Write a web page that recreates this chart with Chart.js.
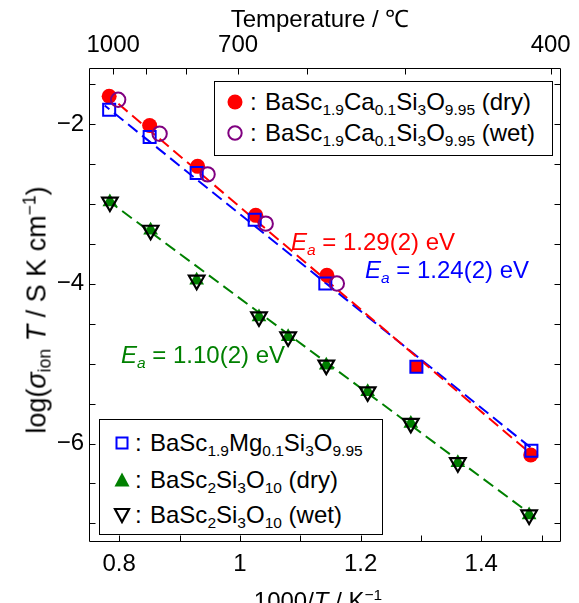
<!DOCTYPE html>
<html>
<head>
<meta charset="utf-8">
<script src="https://cdn.jsdelivr.net/npm/chart.js@4/dist/chart.umd.min.js"></script>
<style>
  html,body{margin:0;padding:0;background:#fff;overflow:hidden;}
  #wrap{position:relative;width:579px;height:603px;font-family:"Liberation Sans",Arial,sans-serif;color:#000;}
  #c{position:absolute;left:0;top:0;}
  .ov{position:absolute;white-space:nowrap;font-size:24px;line-height:24px;}
  .yt{font-size:27px;line-height:27px;}
  .yt .sb,.yt .sp{font-size:17.5px;}
  .sb{font-size:15.5px;vertical-align:-0.3em;line-height:0;}
  .sp{font-size:15.5px;vertical-align:0.55em;line-height:0;}
  .box{position:absolute;border:1px solid #000;background:#fff;}
  .mk{position:absolute;}
</style>
</head>
<body>
<div id="wrap">
<canvas id="c" width="579" height="603"></canvas>
</div>
<script>
// ---------------- data ----------------
const caDryX = [0.7834, 0.8505, 0.9300, 1.0263, 1.1442, 1.2925, 1.4820];
const caDryY = [-1.653, -2.019, -2.531, -3.144, -3.894, -5.040, -6.144];
const caWetX = [0.7983, 0.8670, 0.9465, 1.0428, 1.1607];
const caWetY = [-1.698, -2.123, -2.631, -3.248, -3.998];
const mgX = [0.7834, 0.8505, 0.9284, 1.0246, 1.1416, 1.2925, 1.4831];
const mgY = [-1.823, -2.165, -2.615, -3.198, -3.998, -5.040, -6.090];
const pureDryX = [0.7846, 0.8521, 0.9284, 1.0317, 1.0800, 1.1432, 1.2118, 1.2833, 1.3612, 1.4793];
const pureDryY = [-2.978, -3.331, -3.956, -4.415, -4.665, -5.019, -5.353, -5.748, -6.240, -6.894];
const pureWetX = [0.7846, 0.8521, 0.9284, 1.0317, 1.0800, 1.1432, 1.2118, 1.2833, 1.3612, 1.4793];
const pureWetY = [-2.978, -3.331, -3.956, -4.415, -4.665, -5.019, -5.353, -5.748, -6.240, -6.894];
// fitted Arrhenius lines (end points)
const fitCaX = [0.776, 1.488];
const fitCaY = [-1.603, -6.165];
const fitMgX = [0.776, 1.490];
const fitMgY = [-1.770, -6.100];
const fitPureX = [0.781, 1.4876];
const fitPureY = [-2.956, -6.915];
// axes
const xTickValues = [0.8, 0.9, 1.0, 1.1, 1.2, 1.3, 1.4, 1.5];
const xTickLabels = ['0.8', '', '1', '', '1.2', '', '1.4', ''];
const topTickValues = [0.790, 0.844, 0.911, 0.997, 1.112, 1.273, 1.515];
const topTickLabels = ['1000', '', '', '700', '', '', '400'];
const yTickValues = [-7, -6.5, -6, -5.5, -5, -4.5, -4, -3.5, -3, -2.5, -2, -1.5];
const yTickLabels = ['', '', '\u22126', '', '', '', '\u22124', '', '', '', '\u22122', ''];
const xRange = [0.75, 1.53];
const yRange = [-7.22, -1.30];
// texts
const topTitle = 'Temperature / \u2103';
const legendA = [
  {html: 'BaSc<span class="sb">1.9</span>Ca<span class="sb">0.1</span>Si<span class="sb">3</span>O<span class="sb">9.95</span> (dry)'},
  {html: 'BaSc<span class="sb">1.9</span>Ca<span class="sb">0.1</span>Si<span class="sb">3</span>O<span class="sb">9.95</span> (wet)'}
];
const legendB = [
  {html: 'BaSc<span class="sb">1.9</span>Mg<span class="sb">0.1</span>Si<span class="sb">3</span>O<span class="sb">9.95</span>'},
  {html: 'BaSc<span class="sb">2</span>Si<span class="sb">3</span>O<span class="sb">10</span> (dry)'},
  {html: 'BaSc<span class="sb">2</span>Si<span class="sb">3</span>O<span class="sb">10</span> (wet)'}
];
const eaLabels = ['1.29(2)', '1.24(2)', '1.10(2)'];

const toXY = (xs, ys) => xs.map((x, i) => ({x: x, y: ys[i]}));

// ---------------- overlays (real text) ----------------
const wrap = document.getElementById('wrap');
function addDiv(cls, html, css) {
  const d = document.createElement('div');
  d.className = cls; d.innerHTML = html; d.style.cssText = css;
  wrap.appendChild(d); return d;
}
// titles
addDiv('ov', topTitle, 'left:320px;top:19px;transform:translate(-50%,-50%);');
addDiv('ov', '1000/<i>T</i> / K<span class="sp">\u22121</span>', 'left:318px;top:589px;transform:translate(-50%,0);');
addDiv('ov yt', 'log(<i>\u03c3</i><span class="sb">ion</span> <i>T</i> / S K cm<span class="sp">\u22121</span>)',
  'left:37px;top:310px;transform:translate(-50%,-50%) rotate(-90deg);');
// Ea labels
addDiv('ov', '<i>E</i><span class="sb"><i>a</i></span> = ' + eaLabels[0] + ' eV', 'left:291px;top:242px;transform:translateY(-50%);color:#ff0000;');
addDiv('ov', '<i>E</i><span class="sb"><i>a</i></span> = ' + eaLabels[1] + ' eV', 'left:365px;top:270px;transform:translateY(-50%);color:#0000ff;');
addDiv('ov', '<i>E</i><span class="sb"><i>a</i></span> = ' + eaLabels[2] + ' eV', 'left:121px;top:355px;transform:translateY(-50%);color:#008000;');

// legend A
addDiv('box', '', 'left:214px;top:81px;width:337px;height:73px;');
const svgA = [
  '<svg width="18" height="18"><circle cx="9" cy="9" r="7.5" fill="#ff0000"/></svg>',
  '<svg width="18" height="18"><circle cx="9" cy="9" r="6.7" fill="none" stroke="#800080" stroke-width="2"/></svg>'
];
const rowsA = [101.7, 133.3];
legendA.forEach((it, i) => {
  addDiv('mk', svgA[i], 'left:226px;top:' + (rowsA[i] - 9) + 'px;');
  addDiv('ov', ':', 'left:250px;top:' + rowsA[i] + 'px;transform:translateY(-50%);');
  addDiv('ov', it.html, 'left:265px;top:' + rowsA[i] + 'px;transform:translateY(-50%);');
});
// legend B
addDiv('box', '', 'left:99px;top:419px;width:282px;height:114px;');
const svgB = [
  '<svg width="18" height="18"><rect x="3.5" y="3.5" width="11" height="11" fill="none" stroke="#0000ff" stroke-width="2"/></svg>',
  '<svg width="18" height="18"><polygon points="9,1.5 16.5,15.5 1.5,15.5" fill="#008000"/></svg>',
  '<svg width="18" height="18"><polygon points="2,3 16,3 9,16" fill="none" stroke="#000" stroke-width="2.2"/></svg>'
];
const rowsB = [443.3, 480, 515];
legendB.forEach((it, i) => {
  addDiv('mk', svgB[i], 'left:113px;top:' + (rowsB[i] - 9) + 'px;');
  addDiv('ov', ':', 'left:135px;top:' + rowsB[i] + 'px;transform:translateY(-50%);');
  addDiv('ov', it.html, 'left:150px;top:' + rowsB[i] + 'px;transform:translateY(-50%);');
});

// ---------------- frame and inward ticks ----------------
const frameTicks = {
  id: 'frameTicks',
  beforeDatasetsDraw(chart) {
    const {ctx, chartArea: a, scales} = chart;
    const L = 6;
    const l = Math.round(a.left) + 0.5, r = Math.round(a.right) + 0.5;
    const t = Math.round(a.top) + 0.5, b = Math.round(a.bottom) + 0.5;
    ctx.save();
    ctx.strokeStyle = '#000'; ctx.lineWidth = 1;
    ctx.beginPath();
    ctx.rect(l, t, r - l, b - t);
    scales.x.ticks.forEach(tk => {
      const p = Math.round(scales.x.getPixelForValue(tk.value)) + 0.5;
      ctx.moveTo(p, b); ctx.lineTo(p, b - L);
    });
    scales.x2.ticks.forEach(tk => {
      const p = Math.round(scales.x2.getPixelForValue(tk.value)) + 0.5;
      ctx.moveTo(p, t); ctx.lineTo(p, t + L);
    });
    scales.y.ticks.forEach(tk => {
      const p = Math.round(scales.y.getPixelForValue(tk.value)) + 0.5;
      ctx.moveTo(l, p); ctx.lineTo(l + L, p);
      ctx.moveTo(r, p); ctx.lineTo(r - L, p);
    });
    ctx.stroke();
    ctx.restore();
  }
};

const FONT = {family: '"Liberation Sans", Arial, sans-serif', size: 24};
const dash = [12, 6];

new Chart(document.getElementById('c'), {
  type: 'scatter',
  data: {
    datasets: [
      {label: 'pureWet', data: toXY(pureWetX, pureWetY), pointStyle: 'triangle', rotation: 180,
        pointRadius: 9, backgroundColor: 'rgba(0,0,0,0)', borderColor: '#000', pointBorderWidth: 2.2},
      {label: 'pureDry', data: toXY(pureDryX, pureDryY), pointStyle: 'triangle',
        pointRadius: 8.5, backgroundColor: '#008000', borderColor: '#008000', pointBorderWidth: 0},
      {label: 'caWet', data: toXY(caWetX, caWetY), pointStyle: 'circle',
        pointRadius: 7.2, backgroundColor: 'rgba(0,0,0,0)', borderColor: '#800080', pointBorderWidth: 2},
      {label: 'mg', data: toXY(mgX, mgY), pointStyle: 'rect',
        pointRadius: 8.5, backgroundColor: 'rgba(0,0,0,0)', borderColor: '#0000ff', pointBorderWidth: 2},
      {label: 'caDry', data: toXY(caDryX, caDryY),
        pointStyle: ['circle', 'circle', 'circle', 'circle', 'circle', 'rect', 'circle'],
        pointRadius: [7.5, 7.5, 7.5, 7.5, 7.5, 8.5, 7.5],
        backgroundColor: '#ff0000', borderColor: '#ff0000', pointBorderWidth: 0},
      {label: 'fitCa', data: toXY(fitCaX, fitCaY), showLine: true, pointRadius: 0,
        borderColor: '#ff0000', borderWidth: 2, borderDash: dash},
      {label: 'fitMg', data: toXY(fitMgX, fitMgY), showLine: true, pointRadius: 0,
        borderColor: '#0000ff', borderWidth: 2, borderDash: dash, borderDashOffset: 6},
      {label: 'fitPure', data: toXY(fitPureX, fitPureY), showLine: true, pointRadius: 0,
        borderColor: '#008000', borderWidth: 2, borderDash: dash}
    ]
  },
  options: {
    responsive: false,
    animation: false,
    devicePixelRatio: 1,
    layout: {padding: {left: 0, right: 17, top: 0, bottom: 0}},
    plugins: {legend: {display: false}, tooltip: {enabled: false}},
    scales: {
      x: {
        type: 'linear', position: 'bottom', min: xRange[0], max: xRange[1],
        grid: {display: false, drawTicks: false}, border: {display: false},
        afterBuildTicks: s => { s.ticks = xTickValues.map(v => ({value: v})); },
        afterFit: s => { s.height = 62; },
        ticks: {padding: 9, color: '#000', font: FONT, maxRotation: 0, autoSkip: false,
          callback: (v, i) => xTickLabels[i]}
      },
      x2: {
        type: 'linear', position: 'top', min: xRange[0], max: xRange[1],
        grid: {display: false, drawTicks: false}, border: {display: false},
        afterBuildTicks: s => { s.ticks = topTickValues.map(v => ({value: v})); },
        afterFit: s => { s.height = 68; },
        ticks: {padding: 8, color: '#000', font: FONT, maxRotation: 0, autoSkip: false,
          callback: (v, i) => topTickLabels[i]}
      },
      y: {
        type: 'linear', position: 'left', min: yRange[0], max: yRange[1],
        grid: {display: false, drawTicks: false}, border: {display: false},
        afterBuildTicks: s => { s.ticks = yTickValues.map(v => ({value: v})); },
        afterFit: s => { s.width = 89; },
        ticks: {padding: 5, color: '#000', font: FONT, autoSkip: false,
          callback: (v, i) => yTickLabels[i]}
      }
    }
  },
  plugins: [frameTicks]
});
</script>
</body>
</html>
